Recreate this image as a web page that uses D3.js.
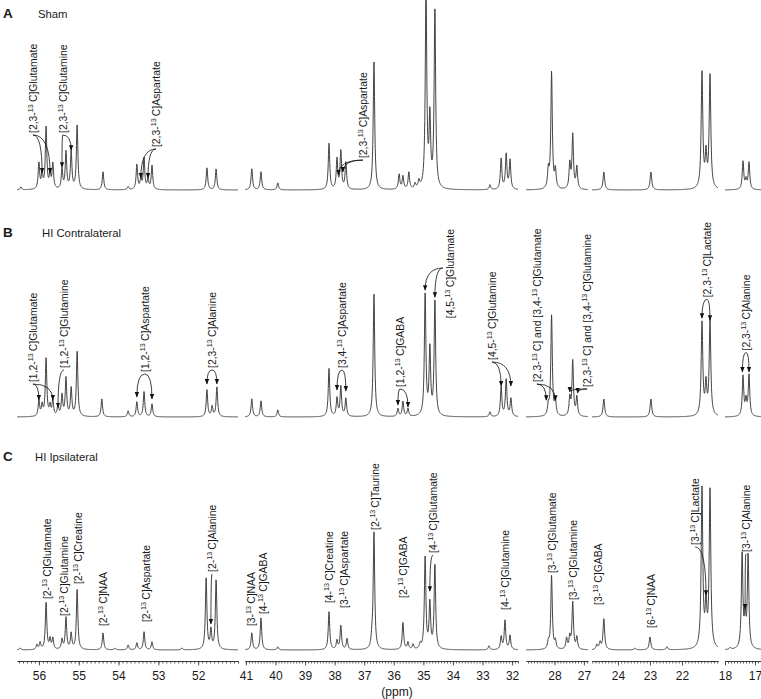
<!DOCTYPE html>
<html><head><meta charset="utf-8">
<script src="https://cdn.jsdelivr.net/npm/d3@7"></script>
<style>
body{margin:0;background:#fff}
svg{display:block}
text{font-family:"Liberation Sans",Arial,Helvetica,sans-serif;fill:#1a1a1a}
</style>
</head><body>
<svg id="c" width="761" height="699"></svg>
<script>
// ---------------- DATA ----------------
// broken ppm axis: one domain per segment (high -> low ppm)
const segmentDomains = [[56.55,51.0],[41.03,31.8],[28.97,26.86],[24.81,20.875],[18.0,16.8]];
const tickLabels = [[56,55,54,53,52],[41,40,39,38,37,36,35,34,33,32],[28,27],[24,23,22],[18,17]];
const lineWidths = [0.022,0.03,0.03,0.03,0.03]; // peak half width (ppm) per segment
const panelLetters = ["A","B","C"];
const panelTitles = ["Sham","HI Contralateral","HI Ipsilateral"];

// peaks: [ppm, intensity]
const shamPeaks = [
 [56.45,1.6],[56.00,13.7],[55.92,7.9],[55.82,32.6],[55.72,7.9],[55.65,13.2],[55.42,10.5],[55.32,19.5],[55.19,20],[55.04,34.2],
 [54.39,9.5],[53.76,1.6],[53.54,13.2],[53.44,5.3],[53.36,16.3],[53.26,5.3],[53.16,12.6],[51.78,11.6],[51.55,11.1],
 [40.80,11.1],[40.49,9.5],[39.92,3.7],[38.19,24.2],[37.92,15.8],[37.79,20],[37.62,14.2],[36.67,67.4],[35.82,7.9],[35.69,6.8],
 [35.49,8.9],[35.28,2.6],[35.15,3.7],[34.91,105],[34.78,36],[34.61,94.7],[32.75,2.6],[32.37,16.3],[32.20,18.4],[32.07,15.3],
 [28.21,9.5],[28.10,61.6],[27.97,9.5],[27.48,13.2],[27.38,28.4],[27.24,11.6],
 [24.44,9.5],[22.97,9.5],[21.375,61],[21.25,17],[21.125,59.5],
 [17.40,14.7],[17.30,4.7],[17.20,14.2]
];
const contraPeaks = [
 [56.00,8.4],[55.92,5.8],[55.82,30.5],[55.72,5.3],[55.65,8.4],[55.52,5.8],[55.42,11],[55.32,20],[55.19,14.7],[55.04,34.7],
 [54.42,9.5],[53.76,3.2],[53.54,7.9],[53.36,13.2],[53.16,6.8],[51.78,14.2],[51.65,5.3],[51.53,15.8],
 [40.80,9.5],[40.49,8.4],[39.92,3.7],[38.19,25.3],[37.92,9.5],[37.79,15.8],[37.62,9.5],[36.67,64.7],[35.86,4.2],[35.69,7.9],
 [35.52,4.2],[34.94,64.7],[34.78,35],[34.61,61],[32.75,2.6],[32.37,15.8],[32.20,19.5],[32.04,9.5],
 [28.21,5.3],[28.10,53.2],[27.97,7.9],[27.48,9.5],[27.38,29],[27.24,10],
 [24.44,9.5],[22.97,9.5],[21.375,49],[21.25,16],[21.125,50],
 [17.40,21],[17.30,8],[17.20,21.6]
];
const ipsiPeaks = [
 [56.47,1],[56.05,2.6],[55.97,3.7],[55.82,24.7],[55.72,5.3],[55.65,5.8],[55.42,5.3],[55.32,16.8],[55.19,8.4],[55.04,32.1],
 [54.39,8.9],[54.09,1],[53.76,2.6],[53.54,3.7],[53.36,9.5],[53.16,4.2],[52.41,1],[51.80,37.9],[51.68,10],[51.55,36.8],
 [40.80,8.9],[40.49,16.8],[39.92,1.6],[38.19,20],[37.92,4.7],[37.79,12.6],[37.58,5.8],[36.74,4.2],[36.67,61.6],[35.69,14.2],
 [35.52,3.7],[35.35,2.6],[35.11,2.6],[34.94,49],[34.78,24],[34.61,44.7],[32.78,2.1],[32.37,6.8],[32.24,15.3],[32.07,7.4],
 [28.21,3.7],[28.10,38.9],[27.97,4.2],[27.59,5.8],[27.48,6.3],[27.38,24.7],[27.24,6.3],
 [24.66,2.6],[24.56,3.7],[24.44,16.3],[23.47,1],[23.0,6.8],[22.47,1.6],[21.375,84],[21.25,22],[21.125,83],
 [17.83,1],[17.43,50],[17.33,16],[17.23,49]
];

// annotations: text ("^13" = superscript 13), ppm, intensity where label starts, arrow targets [ppm,intensity]
const shamLabels = [
 {t:"[2,3-^13C]Glutamate", ppm:56.15, at:30, arrows:[[55.92,9],[55.72,9]]},
 {t:"[2,3-^13C]Glutamine", ppm:55.40, at:30, arrows:[[55.42,12],[55.19,21]]},
 {t:"[2,3-^13C]Aspartate", ppm:53.06, at:22.6, arrows:[[53.44,6.3],[53.26,6.3]]},
 {t:"[2,3-^13C]Aspartate", ppm:37.04, at:16.8, arrows:[[37.72,9.5],[37.87,8]]}
];
const contraLabels = [
 {t:"[1,2-^13C]Glutamate", ppm:56.15, at:18.4, arrows:[[56.0,9],[55.65,9]]},
 {t:"[1,2-^13C]Glutamine", ppm:55.37, at:25.8, arrows:[[55.52,5]]},
 {t:"[1,2-^13C]Aspartate", ppm:53.34, at:23.7, arrows:[[53.54,10.5],[53.16,9.5]]},
 {t:"[2,3-^13C]Alanine", ppm:51.65, at:25.8, arrows:[[51.78,17.4],[51.53,17.4]]},
 {t:"[3,4-^13C]Aspartate", ppm:37.75, at:25.8, arrows:[[37.92,14.2],[37.62,13.7]]},
 {t:"[1,2-^13C]GABA", ppm:35.79, at:15.8, arrows:[[35.86,6.3],[35.52,5.3]]},
 {t:"[4,5-^13C]Glutamate", ppm:34.10, at:52, from:[34.34,78.4], arrows:[[34.94,66.8],[34.61,63]]},
 {t:"[4,5-^13C]Glutamine", ppm:32.68, at:30, arrows:[[32.37,16.3],[32.04,16.3]]},
 {t:"[2,3-^13C] and [3,4-^13C]Glutamate", ppm:28.60, at:18.4, arrows:[[28.28,8.9],[27.97,8.9]]},
 {t:"[2,3-^13C] and [3,4-^13C]Glutamine", ppm:26.89, at:15.8, arrows:[[27.48,13.2],[27.21,12.6]]},
 {t:"[2,3-^13C]Lactate", ppm:21.22, at:63, arrows:[[21.375,52],[21.125,51]]},
 {t:"[2,3-^13C]Alanine", ppm:17.30, at:35, arrows:[[17.42,23.7],[17.2,23.7]]}
];
const ipsiLabels = [
 {t:"[2-^13C]Glutamate", ppm:55.80, at:26.8},
 {t:"[2-^13C]Glutamine", ppm:55.37, at:17.9},
 {t:"[2-^13C]Creatine", ppm:55.02, at:34.7},
 {t:"[2-^13C]NAA", ppm:54.39, at:12.6},
 {t:"[2-^13C]Aspartate", ppm:53.31, at:14.7},
 {t:"[2-^13C]Alanine", ppm:51.65, at:41.1, arrows:[[51.68,13.7]]},
 {t:"[3-^13C]NAA", ppm:40.83, at:12.6},
 {t:"[4-^13C]GABA", ppm:40.42, at:18.9},
 {t:"[4-^13C]Creatine", ppm:38.19, at:24.7},
 {t:"[3-^13C]Aspartate", ppm:37.68, at:22.1},
 {t:"[2-^13C]Taurine", ppm:36.64, at:63.2},
 {t:"[2-^13C]GABA", ppm:35.69, at:27.4},
 {t:"[4-^13C]Glutamate", ppm:34.67, at:51.1, arrows:[[34.78,31]]},
 {t:"[4-^13C]Glutamine", ppm:32.24, at:21.1},
 {t:"[3-^13C]Glutamate", ppm:28.085, at:40.5},
 {t:"[3-^13C]Glutamine", ppm:27.37, at:26.3},
 {t:"[3-^13C]GABA", ppm:24.62, at:23.7},
 {t:"[6-^13C]NAA", ppm:22.97, at:11.6},
 {t:"[3-^13C]Lactate", ppm:21.59, at:55.3, arrows:[[21.25,28.9]]},
 {t:"[3-^13C]Alanine", ppm:17.30, at:51.6, arrows:[[17.33,21.6]]}
];

// ---------------- LAYOUT ----------------
const svg = d3.select("#c");
const segPx = [[17,238],[245,518],[526,588],[592,718],[725,761]];
const xs = segmentDomains.map((d,i)=>d3.scaleLinear().domain(d).range(segPx[i]));
const baselines = [190,417,650];
const panelH = 190;
const yScales = baselines.map(b=>d3.scaleLinear().domain([0,100]).range([b,b-panelH]));
const allPeaks = [shamPeaks,contraPeaks,ipsiPeaks];
const allLabels = [shamLabels,contraLabels,ipsiLabels];
const titleY = [18,237,461];
const titleX = [38,42,35];

function segIndex(ppm){
  let best=0,bd=1e9;
  segmentDomains.forEach((d,i)=>{
    const dist = ppm>d[0]? ppm-d[0] : (ppm<d[1]? d[1]-ppm : 0);
    if(dist<bd){bd=dist;best=i;}
  });
  return best;
}
function X(ppm){ return xs[segIndex(ppm)](ppm); }

const defs = svg.append("defs");
defs.append("marker").attr("id","ah").attr("viewBox","0 0 10 10")
  .attr("refX",9).attr("refY",5).attr("markerWidth",5.5).attr("markerHeight",5.5)
  .attr("orient","auto").attr("markerUnits","userSpaceOnUse")
  .append("path").attr("d","M0,1 L10,5 L0,9 Z").attr("fill","#111");

// spectra
allPeaks.forEach((peaks,pi)=>{
  const ys = yScales[pi];
  xs.forEach((x,si)=>{
    const [p0,p1] = segPx[si];
    const w = lineWidths[si];
    const pts = [];
    for(let px=p0; px<=p1+0.001; px+=0.25){
      const ppm = x.invert(px);
      let I = 0;
      for(const [c,h] of peaks){ const d=ppm-c; I += h*w*w/(d*d+w*w); }
      pts.push([ppm,I]);
    }
    svg.append("path").datum(pts)
      .attr("d", d3.line().x(d=>x(d[0])).y(d=>ys(d[1])))
      .attr("fill","none").attr("stroke","#3a3a3a").attr("stroke-width",0.95);
  });
});

// titles
panelLetters.forEach((L,i)=>{
  svg.append("text").attr("x",3).attr("y",titleY[i]).attr("font-size",13.5).attr("font-weight","bold").text(L);
  svg.append("text").attr("x",titleX[i]).attr("y",titleY[i]).attr("font-size",11.3).text(panelTitles[i]);
});

// annotations
allLabels.forEach((labels,pi)=>{
  const ys = yScales[pi];
  const g = svg.append("g");
  labels.forEach(lab=>{
    const lx = X(lab.ppm), ly = ys(lab.at);
    const t = g.append("text").attr("transform",`translate(${lx+3.8},${ly}) rotate(-90)`).attr("font-size",10.4);
    lab.t.split("^13").forEach((p,k)=>{
      if(k===0){ t.append("tspan").text(p); }
      else {
        t.append("tspan").attr("font-size",7.2).attr("dy",-4).text("13");
        t.append("tspan").attr("dy",4).text("\u2009"+p);
      }
    });
    (lab.arrows||[]).forEach(a=>{
      const sx = lab.from ? X(lab.from[0]) : lx;
      const sy = lab.from ? ys(lab.from[1]) : ly+2;
      const tx = X(a[0]), ty = ys(a[1]);
      g.append("path").attr("d",`M${sx},${sy} Q${tx},${sy} ${tx},${ty}`)
        .attr("fill","none").attr("stroke","#111").attr("stroke-width",0.8)
        .attr("marker-end","url(#ah)");
    });
  });
});

// broken axis
const axisY = 661;
xs.forEach((x,si)=>{
  const d = segmentDomains[si];
  const lo = Math.min(d[0],d[1]), hi = Math.max(d[0],d[1]);
  const minor = d3.range(Math.ceil(lo*10-1e-6), Math.floor(hi*10+1e-6)+1).map(v=>v/10);
  const gMinor = svg.append("g").attr("transform",`translate(0,${axisY})`)
    .call(d3.axisBottom(x).tickValues(minor).tickSize(2.5).tickSizeOuter(0).tickFormat(""));
  const gMajor = svg.append("g").attr("transform",`translate(0,${axisY})`)
    .call(d3.axisBottom(x).tickValues(tickLabels[si]).tickSize(4.5).tickSizeOuter(0).tickFormat(d3.format("d")));
  [gMinor,gMajor].forEach(g=>{
    g.selectAll("path,line").attr("stroke","#333").attr("stroke-width",0.8);
  });
  gMajor.selectAll("text").attr("font-size",12).attr("font-family",'"Liberation Sans",Arial,sans-serif').attr("fill","#1a1a1a").attr("dy","0.95em");
});
svg.append("text").attr("x",397).attr("y",696).attr("text-anchor","middle").attr("font-size",12).text("(ppm)");
</script>
</body></html>
